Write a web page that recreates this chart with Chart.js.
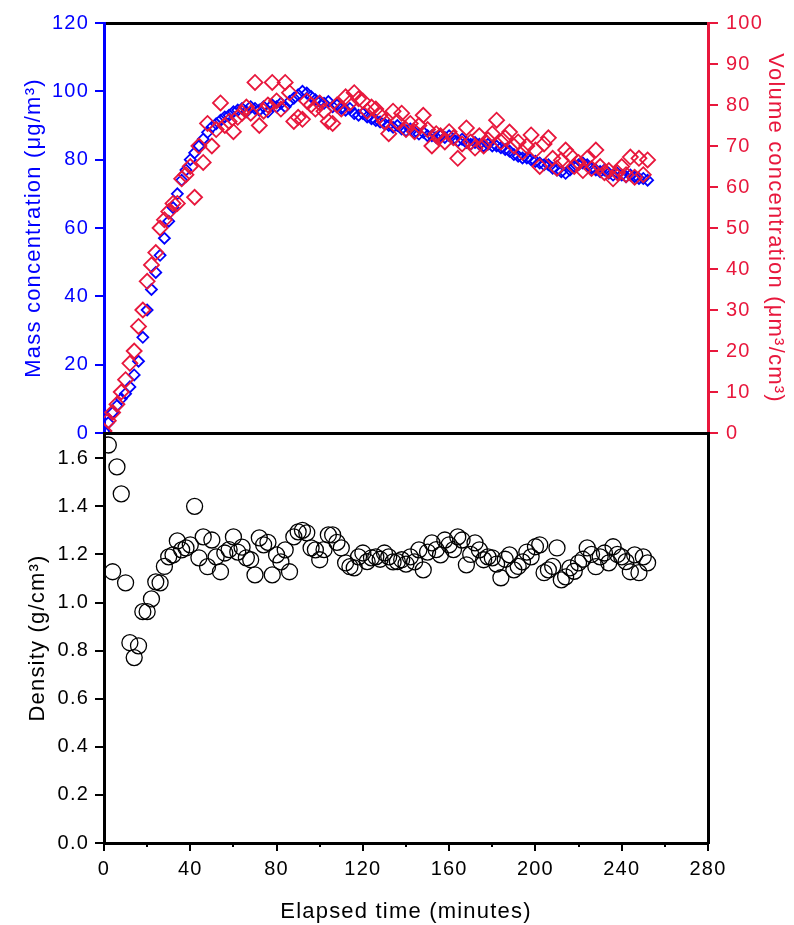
<!DOCTYPE html>
<html lang="en">
	<head>
		<meta charset="UTF-8" />
		<title>Mass, volume concentration and density</title>
		<script src="https://cdn.jsdelivr.net/npm/chart.js"></script>
		<style>
			body {
				margin: 0;
				background: #fff;
			}
			#wrap {
				position: relative;
				width: 794px;
				height: 925px;
			}
			canvas {
				position: absolute;
				left: 0;
				top: 0;
			}
		</style>
	</head>
	<body>
		<div id="wrap">
			<canvas id="upper" width="794" height="925"></canvas>
			<canvas id="lower" width="794" height="925"></canvas>
		</div>
		<script>
			const minutes = [
				0, 2, 4, 6, 8, 10, 12, 14, 16, 18,
				20, 22, 24, 26, 28, 30, 32, 34, 36, 38,
				40, 42, 44, 46, 48, 50, 52, 54, 56, 58,
				60, 62, 64, 66, 68, 70, 72, 74, 76, 78,
				80, 82, 84, 86, 88, 90, 92, 94, 96, 98,
				100, 102, 104, 106, 108, 110, 112, 114, 116, 118,
				120, 122, 124, 126, 128, 130, 132, 134, 136, 138,
				140, 142, 144, 146, 148, 150, 152, 154, 156, 158,
				160, 162, 164, 166, 168, 170, 172, 174, 176, 178,
				180, 182, 184, 186, 188, 190, 192, 194, 196, 198,
				200, 202, 204, 206, 208, 210, 212, 214, 216, 218,
				220, 222, 224, 226, 228, 230, 232, 234, 236, 238,
				240, 242, 244, 246, 248, 250, 252,
			];

			// µg/m3
			const massConc = [
				0.5, 3, 6, 8, 10, 11.5, 13.5, 17, 21, 28,
				36, 42, 47, 52, 57, 62, 66, 70, 74, 77,
				80, 82, 84, 86, 88, 89.5, 90.5, 91.5, 92.5, 93,
				94, 94.5, 95, 94, 95.5, 95, 94.5, 95.5, 94, 96,
				95.5, 96.5, 95.5, 97, 98, 99, 100, 99.5, 98.5, 97.5,
				97, 96.5, 97, 95.5, 96, 95, 94.5, 95, 93.5, 93,
				93.5, 92.5, 92, 91.5, 91, 90.5, 90, 89.5, 90, 89,
				88.5, 89, 88, 87.5, 88, 87, 87, 86.5, 87, 86.5,
				87, 86, 85.5, 86, 85, 84.5, 85, 84.5, 84, 84.5,
				84, 84, 83.5, 83, 82.5, 81.5, 81, 80.5, 80.5, 80,
				79.5, 79, 78.5, 78.5, 77.5, 77, 76.5, 76, 77, 78,
				78.5, 79, 78.5, 77.5, 77, 76.5, 77, 76, 75.5, 76,
				75.5, 75, 75.5, 75, 74.5, 74.5, 74,
			];

			// µm3/cm3
			const volumeConc = [
				0.5, 3, 5, 7, 10, 13, 17, 20, 26, 30,
				37, 41, 44, 50, 52, 54, 56, 56, 62, 63,
				65, 57.5, 70, 66, 75.5, 70, 74, 80.5, 75, 76,
				73.5, 77, 78, 79.5, 78, 85.5, 75, 78.5, 80, 85.5,
				81, 79, 85.5, 83, 76, 77, 76.5, 81, 80, 79,
				80.5, 78.5, 76, 75.5, 80, 79, 82, 80.5, 83, 81.5,
				81, 78.5, 79.5, 79, 77.5, 76, 73, 78.5, 76, 78,
				74, 75.5, 73.5, 75, 77.5, 74, 70, 73, 72.5, 71,
				73.5, 72, 67, 70.5, 74.4, 71, 69.5, 72.5, 70, 71.5,
				73, 76.3, 71, 72, 73.4, 70, 71, 68.5, 70, 72.7,
				69, 65, 70.5, 72, 67, 64.6, 66.5, 69, 67.8, 65,
				66, 64, 67, 64.5, 69, 65, 63.5, 64, 62, 63.5,
				65, 63, 67.3, 62.4, 67, 63, 66.6,
			];

			// g/cm3
			const density = [
				null, 1.655, 1.128, 1.564, 1.452, 1.082, 0.833, 0.771, 0.82, 0.962,
				0.962, 1.015, 1.086, 1.082, 1.15, 1.19, 1.198, 1.256, 1.219, 1.227,
				1.24, 1.4, 1.186, 1.273, 1.149, 1.26, 1.19, 1.128, 1.206, 1.22,
				1.273, 1.21, 1.23, 1.186, 1.178, 1.115, 1.269, 1.24, 1.25, 1.115,
				1.198, 1.169, 1.219, 1.128, 1.273, 1.294, 1.3, 1.29, 1.227, 1.219,
				1.178, 1.22, 1.281, 1.281, 1.25, 1.227, 1.165, 1.149, 1.144, 1.19,
				1.206, 1.17, 1.186, 1.19, 1.18, 1.206, 1.19, 1.169, 1.17, 1.178,
				1.16, 1.19, 1.169, 1.219, 1.136, 1.21, 1.248, 1.22, 1.198, 1.26,
				1.24, 1.22, 1.273, 1.26, 1.157, 1.2, 1.248, 1.219, 1.178, 1.19,
				1.186, 1.16, 1.103, 1.18, 1.198, 1.136, 1.15, 1.169, 1.21, 1.19,
				1.232, 1.24, 1.124, 1.136, 1.15, 1.227, 1.094, 1.107, 1.144, 1.13,
				1.165, 1.18, 1.227, 1.2, 1.149, 1.19, 1.206, 1.165, 1.232, 1.2,
				1.19, 1.17, 1.128, 1.198, 1.124, 1.19, 1.165,
			];

			const timeRange = [0, 280];
			const massRange = [0, 120];
			const volumeRange = [0, 100];
			const densityRange = [0, 1.705];

			const blue = "#0000ff";
			const red = "#e8173c";
			const black = "#000000";

			// plot box inside the 794x925 page
			const boxLeft = 104;
			const boxRight = 86;
			const splitY = 433;

			Chart.defaults.font.family = "'Liberation Sans', Arial, sans-serif";
			Chart.defaults.color = black;

			const pairs = (ys) => minutes.map((t, i) => ({ x: t, y: ys[i] })).filter((p) => p.y !== null);

			// the source text is set a little wider than plain Arial
			const spacing = {
				id: "spacing",
				beforeUpdate(chart) {
					chart.ctx.letterSpacing = "1.2px";
				},
				beforeDraw(chart) {
					chart.ctx.letterSpacing = "1.2px";
				},
			};

			const tickFont = { size: 20 };
			const titleFont = { size: 22 };

			new Chart(document.getElementById("upper"), {
				type: "scatter",
				data: {
					datasets: [
						{
							data: pairs(volumeConc),
							yAxisID: "vol",
							pointStyle: "rectRot",
							pointRadius: 7.5,
							borderWidth: 1.8,
							borderColor: red,
							backgroundColor: "rgba(0,0,0,0)",
						},
						{
							data: pairs(massConc),
							yAxisID: "mass",
							pointStyle: "rectRot",
							pointRadius: 5.5,
							borderWidth: 1.8,
							borderColor: blue,
							backgroundColor: "rgba(0,0,0,0)",
						},
					],
				},
				options: {
					responsive: false,
					animation: false,
					events: [],
					layout: { padding: { top: 23, bottom: 925 - splitY, left: 0, right: 0 } },
					plugins: { legend: { display: false }, tooltip: { enabled: false } },
					scales: {
						x: {
							type: "linear",
							position: "top",
							min: timeRange[0],
							max: timeRange[1],
							ticks: { display: false },
							grid: { display: false },
							border: { color: black, width: 3 },
							afterFit: (s) => {
								s.height = 0;
							},
						},
						mass: {
							type: "linear",
							position: "left",
							min: massRange[0],
							max: massRange[1],
							ticks: { stepSize: 20, color: blue, padding: 6, font: tickFont },
							grid: { drawOnChartArea: false, color: blue, lineWidth: 2, tickLength: 9 },
							border: { color: blue, width: 3 },
							title: {
								display: true,
								text: "Mass concentration (μg/m³)",
								color: blue,
								font: titleFont,
								padding: { top: 21, bottom: 0 },
							},
							afterFit: (s) => {
								s.width = boxLeft;
							},
						},
						vol: {
							type: "linear",
							position: "right",
							min: volumeRange[0],
							max: volumeRange[1],
							ticks: { stepSize: 10, color: red, padding: 8, font: tickFont },
							grid: { drawOnChartArea: false, color: red, lineWidth: 2, tickLength: 10 },
							border: { color: red, width: 3 },
							title: {
								display: true,
								text: "Volume concentration (μm³/cm³)",
								color: red,
								font: titleFont,
								padding: { top: 6, bottom: 0 },
							},
							afterFit: (s) => {
								s.width = boxRight;
							},
						},
					},
				},
				plugins: [spacing],
			});

			new Chart(document.getElementById("lower"), {
				type: "scatter",
				data: {
					datasets: [
						{
							data: pairs(density),
							pointStyle: "circle",
							pointRadius: 8,
							borderWidth: 1.3,
							borderColor: black,
							backgroundColor: "rgba(0,0,0,0)",
						},
					],
				},
				options: {
					responsive: false,
					animation: false,
					events: [],
					layout: { padding: { top: splitY, bottom: 0, left: 0, right: 0 } },
					plugins: { legend: { display: false }, tooltip: { enabled: false } },
					scales: {
						x: {
							type: "linear",
							position: "bottom",
							weight: 0,
							min: timeRange[0],
							max: timeRange[1],
							ticks: { display: false, stepSize: 20 },
							grid: { drawOnChartArea: false, color: black, lineWidth: 2, tickLength: 4 },
							border: { display: false },
							afterFit: (s) => {
								s.height = 0;
							},
						},
						xMajor: {
							type: "linear",
							position: "bottom",
							weight: 1,
							min: timeRange[0],
							max: timeRange[1],
							ticks: { stepSize: 40, color: black, padding: 6, font: tickFont },
							grid: { drawOnChartArea: false, color: black, lineWidth: 2, tickLength: 8 },
							border: { color: black, width: 3 },
							title: {
								display: true,
								text: "Elapsed time (minutes)",
								color: black,
								font: titleFont,
								padding: { top: 0, bottom: 0 },
							},
							afterFit: (s) => {
								s.height = 82;
							},
						},
						xTop: {
							type: "linear",
							position: "top",
							min: timeRange[0],
							max: timeRange[1],
							ticks: { display: false },
							grid: { display: false },
							border: { color: black, width: 3 },
							afterFit: (s) => {
								s.height = 0;
							},
						},
						y: {
							type: "linear",
							position: "left",
							min: densityRange[0],
							max: densityRange[1],
							afterBuildTicks: (s) => {
								s.ticks = s.ticks.filter((t) => Math.abs(t.value * 5 - Math.round(t.value * 5)) < 1e-6);
							},
							ticks: {
								stepSize: 0.2,
								color: black,
								padding: 6,
								font: tickFont,
								callback: (v) => v.toFixed(1),
							},
							grid: { drawOnChartArea: false, color: black, lineWidth: 2, tickLength: 9 },
							border: { color: black, width: 3 },
							title: {
								display: true,
								text: "Density (g/cm³)",
								color: black,
								font: titleFont,
								padding: { top: 25, bottom: 0 },
							},
							afterFit: (s) => {
								s.width = boxLeft;
							},
						},
						yRight: {
							type: "linear",
							position: "right",
							min: densityRange[0],
							max: densityRange[1],
							ticks: { display: false },
							grid: { display: false },
							border: { color: black, width: 3 },
							afterFit: (s) => {
								s.width = boxRight;
							},
						},
					},
				},
				plugins: [spacing],
			});
		</script>
	</body>
</html>
